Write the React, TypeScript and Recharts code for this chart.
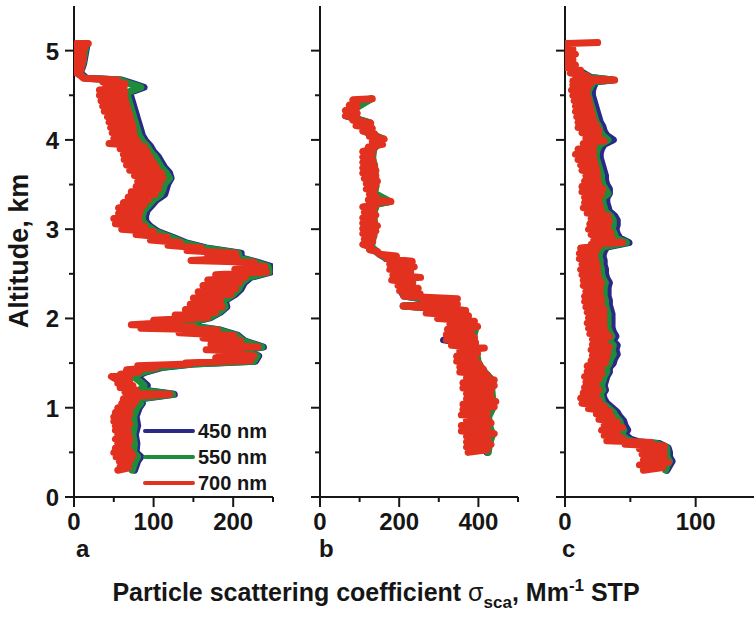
import React from 'react';
import { ScatterChart, Scatter, XAxis, YAxis, Legend } from 'recharts';

type Pair = [number, number]; // [altitude km, scattering Mm-1]

const wavelengths = ['450 nm', '550 nm', '700 nm'];
const colors = ['#2a2a86', '#1d8c3b', '#e2311f'];
const panelLetters = ['a', 'b', 'c'];

// panel a
const a450: Pair[] = [
  [0.3, 76], [0.4, 80], [0.45, 84], [0.5, 78], [0.6, 79], [0.7, 77], [0.8, 80], [0.9, 78], [1.0, 82], [1.05, 86],
  [1.1, 84], [1.15, 126], [1.2, 86], [1.25, 92], [1.3, 86], [1.35, 78], [1.4, 90], [1.45, 110], [1.49, 150], [1.52, 228],
  [1.58, 232], [1.64, 206], [1.68, 238], [1.75, 214], [1.81, 206], [1.87, 184], [1.93, 136], [2.01, 172], [2.07, 184], [2.13, 192],
  [2.2, 190], [2.27, 203], [2.33, 210], [2.4, 214], [2.46, 222], [2.52, 247], [2.58, 248], [2.63, 230], [2.68, 210], [2.73, 210],
  [2.79, 166], [2.85, 140], [2.91, 124], [2.97, 106], [3.03, 96], [3.09, 90], [3.15, 90], [3.21, 92], [3.27, 98], [3.33, 104],
  [3.39, 114], [3.45, 116], [3.51, 118], [3.57, 122], [3.63, 120], [3.69, 114], [3.75, 110], [3.81, 106], [3.87, 100], [3.93, 96],
  [3.99, 90], [4.05, 86], [4.11, 84], [4.17, 82], [4.23, 80], [4.29, 78], [4.35, 76], [4.41, 74], [4.47, 72], [4.53, 70],
  [4.59, 88], [4.63, 74], [4.67, 60], [4.69, 16], [4.75, 8], [4.85, 12], [4.95, 14], [5.05, 16],
];
const a550: Pair[] = [
  [0.3, 73], [0.4, 77], [0.45, 80], [0.5, 75], [0.6, 76], [0.7, 74], [0.8, 76], [0.9, 75], [1.0, 79], [1.05, 84],
  [1.1, 82], [1.15, 124], [1.2, 83], [1.25, 88], [1.3, 82], [1.35, 75], [1.4, 87], [1.45, 107], [1.49, 148], [1.52, 226],
  [1.58, 230], [1.64, 204], [1.68, 236], [1.75, 212], [1.81, 204], [1.87, 182], [1.93, 134], [2.01, 170], [2.07, 182], [2.13, 190],
  [2.2, 188], [2.27, 200], [2.33, 207], [2.4, 211], [2.46, 219], [2.52, 245], [2.58, 244], [2.63, 228], [2.68, 208], [2.73, 207],
  [2.79, 163], [2.85, 137], [2.91, 121], [2.97, 103], [3.03, 93], [3.09, 86], [3.15, 86], [3.21, 88], [3.27, 94], [3.33, 100],
  [3.39, 109], [3.45, 112], [3.51, 114], [3.57, 120], [3.63, 116], [3.69, 110], [3.75, 106], [3.81, 102], [3.87, 96], [3.93, 92],
  [3.99, 86], [4.05, 82], [4.11, 80], [4.17, 78], [4.23, 76], [4.29, 74], [4.35, 72], [4.41, 70], [4.47, 68], [4.53, 67],
  [4.59, 84], [4.63, 70], [4.67, 58], [4.69, 14], [4.75, 6], [4.85, 11], [4.95, 13], [5.05, 15],
];
const a700: Pair[] = [
  [0.3, 55], [0.325, 68], [0.35, 58], [0.375, 69], [0.4, 57], [0.425, 72], [0.45, 53], [0.475, 74], [0.5, 50], [0.525, 70],
  [0.55, 52], [0.575, 68], [0.6, 55], [0.625, 70], [0.65, 52], [0.675, 70], [0.7, 55], [0.725, 68], [0.75, 52], [0.775, 68],
  [0.8, 52], [0.825, 70], [0.85, 50], [0.875, 68], [0.9, 50], [0.925, 70], [0.95, 52], [0.975, 70], [1.0, 55], [1.025, 74],
  [1.05, 60], [1.075, 78], [1.1, 62], [1.125, 76], [1.15, 120], [1.16, 70], [1.175, 64], [1.2, 78], [1.225, 58], [1.25, 74],
  [1.275, 55], [1.3, 70], [1.325, 52], [1.35, 47], [1.36, 70], [1.375, 58], [1.4, 82], [1.425, 66], [1.45, 103], [1.47, 80],
  [1.49, 146], [1.5, 140], [1.53, 222], [1.56, 178],
  [1.58, 226], [1.61, 182], [1.64, 201], [1.65, 166], [1.68, 231], [1.71, 172], [1.75, 209], [1.78, 162], [1.81, 201], [1.84, 132],
  [1.87, 180], [1.89, 84], [1.91, 150], [1.93, 72], [1.96, 130], [1.98, 100], [2.01, 168], [2.04, 127], [2.07, 178], [2.1, 140],
  [2.13, 186], [2.16, 146], [2.2, 184], [2.23, 150], [2.27, 197], [2.3, 156], [2.33, 203], [2.37, 162], [2.4, 208], [2.43, 168],
  [2.46, 215], [2.49, 178], [2.52, 242], [2.55, 202], [2.58, 240], [2.61, 208], [2.63, 226], [2.65, 147], [2.68, 205], [2.7, 168],
  [2.73, 203], [2.76, 142], [2.79, 160], [2.82, 118], [2.85, 133], [2.88, 96], [2.91, 117], [2.94, 78], [2.97, 100], [3.0, 60],
  [3.03, 89], [3.06, 52], [3.09, 82], [3.12, 50], [3.15, 82], [3.18, 56], [3.21, 84], [3.24, 56], [3.27, 88], [3.3, 62],
  [3.33, 94], [3.36, 68], [3.39, 102], [3.42, 72], [3.45, 106], [3.48, 78], [3.51, 108], [3.54, 80], [3.57, 112], [3.6, 76],
  [3.63, 110], [3.66, 70], [3.69, 104], [3.72, 66], [3.75, 100], [3.78, 63], [3.81, 96], [3.84, 62], [3.87, 92], [3.9, 58],
  [3.93, 88], [3.96, 44], [3.99, 80], [4.02, 50], [4.05, 76], [4.08, 48], [4.11, 75], [4.14, 46], [4.17, 74], [4.2, 44],
  [4.23, 72], [4.26, 42], [4.29, 70], [4.32, 38], [4.35, 68], [4.38, 36], [4.41, 66], [4.44, 34], [4.47, 64], [4.5, 32],
  [4.53, 64], [4.56, 32], [4.59, 63], [4.61, 40], [4.63, 64], [4.65, 36], [4.67, 55], [4.69, 12], [4.72, 8], [4.75, 3],
  [4.78, 9], [4.81, 2], [4.84, 10], [4.87, 2], [4.9, 12], [4.93, 3], [4.96, 12], [4.99, 4], [5.02, 13], [5.04, 2],
  [5.06, 14], [5.08, 3], [5.08, 18],
];

// panel b
const b450: Pair[] = [
  [0.5, 422], [0.6, 426], [0.7, 434], [0.8, 426], [0.9, 424], [1.0, 435], [1.1, 434], [1.2, 432], [1.3, 435], [1.4, 414],
  [1.5, 398], [1.6, 394], [1.7, 390], [1.76, 312], [1.8, 386], [1.9, 392], [2.0, 370], [2.09, 363], [2.14, 210], [2.16, 343],
  [2.25, 212], [2.31, 204], [2.4, 232], [2.49, 188], [2.58, 234], [2.67, 168], [2.72, 150], [2.8, 128], [2.9, 132], [3.0, 138],
  [3.1, 135], [3.2, 135], [3.28, 142], [3.31, 175], [3.4, 136], [3.5, 140], [3.6, 138], [3.7, 136], [3.8, 131], [3.9, 134],
  [4.01, 158], [4.1, 110], [4.19, 125], [4.27, 66], [4.36, 90], [4.46, 128],
];
const b550: Pair[] = [
  [0.5, 425], [0.6, 428], [0.7, 436], [0.8, 428], [0.9, 426], [1.0, 437], [1.1, 436], [1.2, 434], [1.3, 437], [1.4, 416],
  [1.5, 400], [1.6, 396], [1.7, 392], [1.8, 388], [1.9, 394], [2.0, 372], [2.09, 365], [2.14, 212], [2.16, 345], [2.25, 214],
  [2.31, 206], [2.4, 234], [2.49, 190], [2.58, 236], [2.67, 170], [2.72, 152], [2.8, 130], [2.9, 134], [3.0, 140], [3.1, 137],
  [3.2, 137], [3.28, 144], [3.31, 177], [3.4, 138], [3.5, 142], [3.6, 140], [3.7, 138], [3.8, 133], [3.9, 136], [4.01, 160],
  [4.1, 112], [4.19, 127], [4.27, 68], [4.36, 92], [4.46, 130],
];
const b700: Pair[] = [
  [0.5, 374], [0.53, 423], [0.56, 370], [0.59, 432], [0.62, 370], [0.65, 423], [0.68, 370], [0.71, 440], [0.74, 357], [0.77, 423],
  [0.8, 357], [0.83, 432], [0.86, 370], [0.89, 423], [0.92, 357], [0.95, 423], [0.98, 361], [1.01, 440], [1.04, 361], [1.07, 444],
  [1.1, 370], [1.13, 432], [1.16, 370], [1.19, 432], [1.22, 361], [1.25, 440], [1.28, 361], [1.31, 440], [1.34, 370], [1.37, 423],
  [1.4, 353], [1.43, 413], [1.46, 353], [1.49, 403], [1.52, 345], [1.55, 393], [1.58, 345], [1.61, 398], [1.64, 353], [1.67, 415],
  [1.7, 332], [1.73, 393], [1.76, 319], [1.79, 390], [1.82, 319], [1.85, 383], [1.88, 322], [1.91, 398], [1.94, 328], [1.97, 390],
  [2.0, 297], [2.03, 375], [2.06, 268], [2.09, 368], [2.12, 267], [2.14, 210], [2.16, 347], [2.19, 260], [2.22, 347], [2.25, 212],
  [2.28, 253], [2.31, 201], [2.34, 248], [2.37, 197], [2.4, 233], [2.43, 181], [2.46, 254], [2.49, 184], [2.52, 229], [2.55, 176],
  [2.58, 238], [2.61, 176], [2.64, 233], [2.67, 167], [2.7, 193], [2.72, 150], [2.75, 145], [2.77, 125], [2.8, 128], [2.83, 108],
  [2.86, 133], [2.89, 112], [2.92, 136], [2.95, 108], [2.98, 141], [3.01, 108], [3.04, 145], [3.07, 108], [3.1, 136], [3.13, 108],
  [3.16, 141], [3.19, 112], [3.22, 136], [3.25, 108], [3.28, 145], [3.3, 125], [3.31, 179], [3.33, 122], [3.36, 143], [3.39, 125],
  [3.42, 136], [3.45, 117], [3.48, 141], [3.51, 117], [3.54, 145], [3.57, 112], [3.6, 141], [3.63, 108], [3.66, 141], [3.69, 108],
  [3.72, 138], [3.75, 108], [3.78, 133], [3.81, 108], [3.84, 132], [3.87, 108], [3.9, 136], [3.92, 122], [3.95, 158], [3.98, 132],
  [4.01, 162], [4.04, 125], [4.07, 138], [4.1, 108], [4.13, 132], [4.16, 91], [4.19, 128], [4.22, 83], [4.25, 94], [4.27, 64],
  [4.3, 94], [4.33, 64], [4.36, 93], [4.39, 74], [4.42, 94], [4.45, 83], [4.46, 132],
];

// panel c
const c450: Pair[] = [
  [0.3, 78], [0.35, 80], [0.4, 82], [0.45, 80], [0.5, 80], [0.55, 79], [0.6, 72], [0.62, 56], [0.65, 50], [0.7, 46],
  [0.75, 48], [0.8, 46], [0.85, 45], [0.9, 42], [0.95, 40], [1.0, 36], [1.05, 32], [1.1, 30], [1.15, 29], [1.2, 31],
  [1.25, 30], [1.3, 31], [1.35, 32], [1.4, 34], [1.45, 34], [1.5, 37], [1.55, 38], [1.6, 40], [1.65, 39], [1.7, 40],
  [1.75, 37], [1.8, 39], [1.85, 37], [1.9, 36], [1.95, 36], [2.0, 36], [2.05, 36], [2.1, 35], [2.15, 34], [2.2, 34],
  [2.25, 33], [2.3, 33], [2.35, 33], [2.4, 34], [2.45, 32], [2.5, 31], [2.55, 31], [2.6, 30], [2.65, 30], [2.7, 29],
  [2.75, 30], [2.8, 32], [2.85, 49], [2.9, 42], [2.95, 40], [3.0, 39], [3.05, 40], [3.1, 40], [3.15, 38], [3.2, 34],
  [3.25, 33], [3.3, 32], [3.35, 32], [3.4, 34], [3.45, 34], [3.5, 32], [3.55, 31], [3.6, 31], [3.65, 30], [3.7, 29],
  [3.75, 28], [3.8, 27], [3.85, 27], [3.9, 28], [3.95, 30], [4.0, 37], [4.05, 32], [4.1, 30], [4.15, 29], [4.2, 27],
  [4.25, 26], [4.3, 25], [4.35, 24], [4.4, 23], [4.45, 22], [4.5, 21], [4.55, 21], [4.6, 22], [4.65, 24], [4.67, 36],
  [4.7, 20], [4.75, 14], [4.8, 6], [4.85, 2], [4.9, -2], [4.95, -3], [5.0, -2], [5.05, -3], [5.08, 0],
];
const c550: Pair[] = [
  [0.3, 77], [0.35, 78], [0.4, 80], [0.45, 78], [0.5, 78], [0.55, 78], [0.6, 70], [0.62, 52], [0.65, 47], [0.7, 43],
  [0.75, 45], [0.8, 43], [0.85, 42], [0.9, 39], [0.95, 37], [1.0, 33], [1.05, 29], [1.1, 28], [1.15, 27], [1.2, 29],
  [1.25, 28], [1.3, 29], [1.35, 30], [1.4, 32], [1.45, 32], [1.5, 34], [1.55, 35], [1.6, 37], [1.65, 36], [1.7, 37],
  [1.75, 34], [1.8, 36], [1.85, 34], [1.9, 33], [1.95, 33], [2.0, 33], [2.05, 33], [2.1, 32], [2.15, 31], [2.2, 31],
  [2.25, 30], [2.3, 30], [2.35, 30], [2.4, 31], [2.45, 29], [2.5, 28], [2.55, 28], [2.6, 27], [2.65, 27], [2.7, 26],
  [2.75, 27], [2.8, 29], [2.85, 47], [2.9, 39], [2.95, 38], [3.0, 36], [3.05, 37], [3.1, 37], [3.15, 35], [3.2, 31],
  [3.25, 30], [3.3, 29], [3.35, 29], [3.4, 33], [3.45, 31], [3.5, 29], [3.55, 28], [3.6, 28], [3.65, 27], [3.7, 26],
  [3.75, 25], [3.8, 24], [3.85, 24], [3.9, 25], [3.95, 27], [4.0, 33], [4.05, 29], [4.1, 27], [4.15, 26], [4.2, 24],
  [4.25, 23], [4.3, 22], [4.35, 21], [4.4, 20], [4.45, 19], [4.5, 18], [4.55, 18], [4.6, 20], [4.65, 22], [4.67, 37],
  [4.7, 19], [4.75, 12], [4.8, 4], [4.85, 1], [4.9, -1], [4.95, -2], [5.0, -1], [5.05, -2], [5.08, 1],
];
const c700: Pair[] = [
  [0.3, 60], [0.33, 75], [0.36, 57], [0.39, 79], [0.42, 60], [0.45, 76], [0.48, 59], [0.51, 76], [0.54, 57], [0.57, 76],
  [0.59, 46], [0.61, 66], [0.63, 32], [0.66, 44], [0.69, 30], [0.72, 40], [0.75, 28], [0.78, 44], [0.81, 30], [0.84, 40],
  [0.87, 26], [0.9, 36], [0.93, 24], [0.96, 34], [0.99, 18], [1.02, 30], [1.05, 13], [1.08, 26], [1.11, 12], [1.14, 24],
  [1.17, 14], [1.2, 26], [1.23, 15], [1.26, 24], [1.29, 16], [1.32, 26], [1.35, 15], [1.38, 28], [1.41, 17], [1.44, 28],
  [1.47, 17], [1.5, 31], [1.53, 20], [1.56, 32], [1.59, 21], [1.62, 33], [1.65, 20], [1.68, 34], [1.71, 21], [1.74, 31],
  [1.77, 21], [1.8, 34], [1.83, 19], [1.86, 31], [1.89, 18], [1.92, 30], [1.95, 17], [1.98, 30], [2.01, 18], [2.04, 30],
  [2.07, 17], [2.1, 30], [2.13, 16], [2.16, 28], [2.19, 15], [2.22, 28], [2.25, 15], [2.28, 27], [2.31, 16], [2.34, 27],
  [2.37, 14], [2.4, 28], [2.43, 14], [2.46, 26], [2.49, 13], [2.52, 25], [2.55, 12], [2.58, 25], [2.61, 13], [2.64, 24],
  [2.67, 11], [2.7, 23], [2.73, 11], [2.76, 24], [2.79, 12], [2.81, 26], [2.83, 20], [2.85, 44], [2.88, 22], [2.91, 36],
  [2.94, 20], [2.97, 35], [3.0, 18], [3.03, 33], [3.06, 19], [3.09, 34], [3.12, 20], [3.15, 33], [3.18, 17], [3.21, 28],
  [3.24, 14], [3.27, 27], [3.3, 15], [3.33, 26], [3.36, 15], [3.39, 28], [3.42, 13], [3.45, 29], [3.48, 13], [3.51, 26],
  [3.54, 15], [3.57, 25], [3.6, 16], [3.63, 25], [3.66, 13], [3.69, 24], [3.72, 12], [3.75, 23], [3.78, 10], [3.81, 22],
  [3.84, 8], [3.87, 22], [3.9, 10], [3.93, 22], [3.96, 14], [3.99, 30], [4.02, 16], [4.05, 26], [4.08, 13], [4.11, 26],
  [4.14, 10], [4.17, 24], [4.2, 10], [4.23, 22], [4.26, 9], [4.29, 21], [4.32, 8], [4.35, 20], [4.38, 8], [4.41, 19],
  [4.44, 7], [4.47, 18], [4.5, 6], [4.53, 17], [4.56, 5], [4.59, 18], [4.62, 6], [4.64, 20], [4.66, 6], [4.67, 38],
  [4.69, 8], [4.72, 17], [4.75, 4], [4.78, 12], [4.81, 1], [4.84, 8], [4.87, 1], [4.9, 6], [4.93, 0], [4.96, 8],
  [4.99, 1], [5.02, 6], [5.05, 1], [5.08, 2], [5.09, 25],
];

const altTicks = [0, 0.5, 1, 1.5, 2, 2.5, 3, 3.5, 4, 4.5, 5];
const altLabels = [0, 1, 2, 3, 4, 5];
const mirrorTicks = [0, 0.55, 1.1, 1.65, 2.2, 2.75, 3.3, 3.85, 4.4, 4.95, 5.5];
const aTicks = [0, 50, 100, 150, 200, 250];
const aLabels = [0, 100, 200];
const bTicks = [0, 100, 200, 300, 400, 500];
const bLabels = [0, 200, 400];
const cTicks = [0, 50, 100, 150];
const cLabels = [0, 100];

const FONT = '"Liberation Sans", Arial, Helvetica, sans-serif';
const INK = '#161616';

const toPoints = (pairs: Pair[]) => pairs.map(([alt, sigma]) => ({ alt, sigma }));

const XTick = (props: any) => {
  const { x, y, payload, labels } = props;
  const major = labels.includes(payload.value);
  return (
    <g>
      <line x1={x} y1={y} x2={x} y2={y + (major ? 10 : 5)} stroke={INK} strokeWidth={2} />
      {major && (
        <text x={x} y={y + 33} textAnchor="middle" fontFamily={FONT} fontWeight="bold" fontSize={24} fill={INK}>
          {payload.value}
        </text>
      )}
    </g>
  );
};

const YTick = (props: any) => {
  const { x, y, payload, labels } = props;
  const major = altLabels.includes(payload.value);
  return (
    <g>
      <line x1={x} y1={y} x2={x - (major ? 9 : 5)} y2={y} stroke={INK} strokeWidth={2} />
      {major && labels && (
        <text x={x - 15} y={y + 9} textAnchor="end" fontFamily={FONT} fontWeight="bold" fontSize={24} fill={INK}>
          {payload.value}
        </text>
      )}
    </g>
  );
};

const MirrorTick = (props: any) => {
  const { x, y } = props;
  return <line x1={x} y1={y} x2={x + 3} y2={y} stroke={INK} strokeWidth={1.5} />;
};

const LegendBox = (props: any) => {
  const items = (props.payload || []).filter((p: any) => wavelengths.includes(p.value));
  return (
    <div style={{ fontFamily: FONT, fontWeight: 'bold', fontSize: 20, color: INK }}>
      {items.map((p: any) => (
        <div key={p.value} style={{ display: 'flex', alignItems: 'center', height: 26 }}>
          <svg width={52} height={8}>
            <line x1={2} y1={4} x2={50} y2={4} stroke={p.color} strokeWidth={4} strokeLinecap="round" />
          </svg>
          <span style={{ marginLeft: 3, lineHeight: '26px' }}>{p.value}</span>
        </div>
      ))}
    </div>
  );
};

const axisLine = { stroke: INK, strokeWidth: 2 };

interface PanelProps {
  series: Pair[][];
  domain: [number, number];
  ticks: number[];
  labels: number[];
  left: number;
  yWidth: number;
  plotWidth: number;
  showAltLabels: boolean;
  showLegend?: boolean;
}

const Panel: React.FC<PanelProps> = ({ series, domain, ticks, labels, left, yWidth, plotWidth, showAltLabels, showLegend }) => {
  const width = yWidth + plotWidth + 8;
  return (
    <div style={{ position: 'absolute', left, top: 0 }}>
      <ScatterChart width={width} height={537} margin={{ top: 6, right: 8, bottom: 0, left: 0 }}>
        <XAxis
          dataKey="sigma" type="number" domain={domain} allowDataOverflow ticks={ticks} interval={0}
          height={40} tickSize={0} tickMargin={0} tickLine={false} axisLine={axisLine}
          tick={<XTick labels={labels} />}
        />
        <XAxis
          xAxisId="t" orientation="top" dataKey="sigma" type="number" domain={domain} allowDataOverflow
          height={0} tick={false} tickLine={false} axisLine={axisLine}
        />
        <YAxis
          dataKey="alt" type="number" domain={[0, 5.5]} allowDataOverflow ticks={altTicks} interval={0}
          width={yWidth} tickSize={0} tickMargin={0} tickLine={false} axisLine={axisLine}
          tick={<YTick labels={showAltLabels} />}
        />
        <YAxis
          yAxisId="r" orientation="right" dataKey="alt" type="number" domain={[0, 5.5]} allowDataOverflow
          ticks={mirrorTicks} interval={0} width={0} tickSize={0} tickMargin={0} tickLine={false}
          axisLine={axisLine} tick={<MirrorTick />}
        />
        {series.map((pairs, i) => (
          <Scatter
            key={wavelengths[i]}
            name={wavelengths[i]}
            data={toPoints(pairs)}
            fill={colors[i]}
            line={{ stroke: colors[i], strokeWidth: 7, strokeLinejoin: 'round', strokeLinecap: 'round' }}
            shape={() => null}
            isAnimationActive={false}
          />
        ))}
        <Scatter
          xAxisId="t" yAxisId="r" data={toPoints(series[2])} legendType="none"
          shape={() => null} isAnimationActive={false}
        />
        {showLegend && (
          <Legend
            content={LegendBox} layout="vertical" align="center" verticalAlign="middle"
            wrapperStyle={{ left: 143, top: 418, width: 'auto' }}
          />
        )}
      </ScatterChart>
    </div>
  );
};

const letterX = [76, 319, 562];

export default function App() {
  return (
    <div style={{ position: 'absolute', left: 0, top: 0, width: 754, height: 617, overflow: 'hidden', background: '#fff' }}>
      <Panel series={[a450, a550, a700]} domain={[0, 250]} ticks={aTicks} labels={aLabels}
        left={0} yWidth={74} plotWidth={199} showAltLabels showLegend />
      <Panel series={[b450, b550, b700]} domain={[0, 500]} ticks={bTicks} labels={bLabels}
        left={300} yWidth={20} plotWidth={198} showAltLabels={false} />
      <Panel series={[c450, c550, c700]} domain={[0, 150]} ticks={cTicks} labels={cLabels}
        left={545} yWidth={20} plotWidth={196} showAltLabels={false} />
      <svg width={754} height={617} style={{ position: 'absolute', left: 0, top: 0, pointerEvents: 'none' }}>
        <text transform="translate(28,251) rotate(-90)" textAnchor="middle" fontFamily={FONT}
          fontWeight="bold" fontSize={27} fill={INK}>
          Altitude, km
        </text>
        {panelLetters.map((l, i) => (
          <text key={l} x={letterX[i]} y={557} fontFamily={FONT} fontWeight="bold" fontSize={24} fill={INK}>{l}</text>
        ))}
        <text x={376} y={601} textAnchor="middle" fontFamily={FONT} fontWeight="bold" fontSize={25} fill={INK}>
          Particle scattering coefficient <tspan fontWeight="normal">σ</tspan>
          <tspan dy={7} fontSize={17}>sca</tspan>
          <tspan dy={-7}>, Mm</tspan>
          <tspan dy={-10} fontSize={17}>-1</tspan>
          <tspan dy={10}> STP</tspan>
        </text>
      </svg>
    </div>
  );
}
